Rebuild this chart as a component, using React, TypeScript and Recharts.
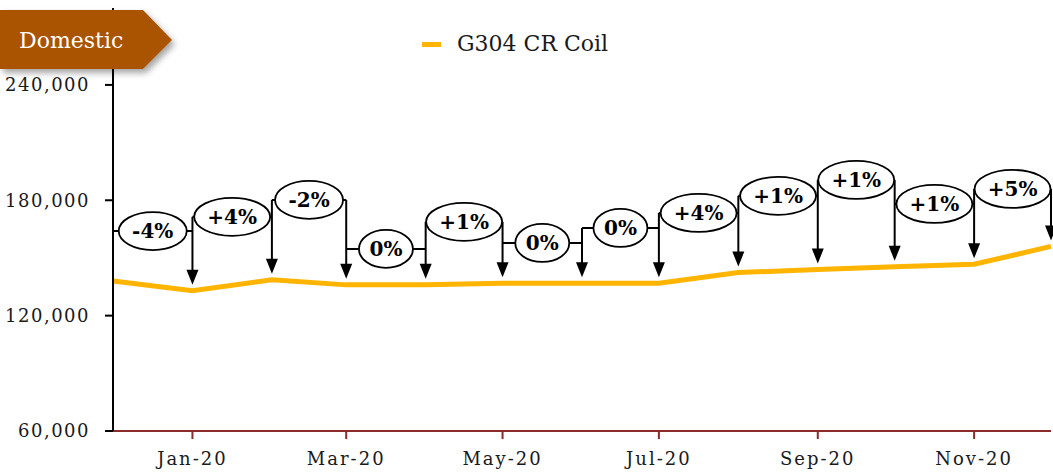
import React from 'react';
import { LineChart, Line, XAxis, YAxis, ReferenceLine, ReferenceDot } from 'recharts';

// ---- data ----
const months = [
  '2019-12', '2020-01', '2020-02', '2020-03', '2020-04', '2020-05', '2020-06',
  '2020-07', '2020-08', '2020-09', '2020-10', '2020-11', '2020-12',
];
const prices = [138000, 133000, 138600, 136000, 136000, 136800, 136800, 136800, 142400, 144000, 145400, 146700, 156000];
// month-on-month change callouts (between month k-1 and k)
const changeLabels = ['-4%', '+4%', '-2%', '0%', '+1%', '0%', '0%', '+4%', '+1%', '+1%', '+1%', '+5%'];
// level (in price units) at which each callout bubble sits
const labelLevels = [164000, 171400, 180200, 154700, 168800, 157800, 165600, 173400, 182300, 190600, 178100, 185900];
const xTickMonths = ['2020-01', '2020-03', '2020-05', '2020-07', '2020-09', '2020-11'];
const yTicks = [60000, 120000, 180000, 240000];
const yDomain = [60000, 280000];
const seriesName = 'G304 CR Coil';
const badgeText = 'Domestic';

const MONTH_NAMES = ['Jan', 'Feb', 'Mar', 'Apr', 'May', 'Jun', 'Jul', 'Aug', 'Sep', 'Oct', 'Nov', 'Dec'];
const toTime = (m: string) => {
  const [y, mo] = m.split('-').map(Number);
  return Date.UTC(y, mo - 1, 1);
};
const fmtMonth = (t: number) => {
  const d = new Date(t);
  return `${MONTH_NAMES[d.getUTCMonth()]}-${String(d.getUTCFullYear()).slice(2)}`;
};
const fmtNum = (v: number) => v.toLocaleString('en-US');

const data = months.map((m, i) => ({ t: toTime(m), price: prices[i] }));
const xTicks = xTickMonths.map(toTime);

const callouts = changeLabels.map((label, j) => {
  const k = j + 1;
  const tPrev = data[k - 1].t;
  const t = data[k].t;
  const nextLevel = j + 1 < labelLevels.length ? labelLevels[j + 1] : -Infinity;
  return {
    label,
    tPrev,
    t,
    mid: (tPrev + t) / 2,
    level: labelLevels[j],
    top: Math.max(labelLevels[j], nextLevel),
    price: data[k].price,
  };
});

const FONT = '"DejaVu Serif", serif';
const MAROON = '#8C2B2B';
const ORANGE = '#FFB400';

const ArrowShape = (p: any) => {
  const { x1, y1, x2, y2 } = p;
  const top = Math.min(y1, y2);
  const bottom = Math.max(y1, y2);
  const tip = bottom - 6;
  const head = 15;
  return (
    <g>
      <line x1={x1} y1={top} x2={x2} y2={tip - head + 1} stroke="#000" strokeWidth={2} />
      <polygon points={`${x2 - 6},${tip - head} ${x2 + 6},${tip - head} ${x2},${tip}`} fill="#000" />
    </g>
  );
};

const StubShape = (p: any) => (
  <line x1={p.x1} y1={p.y1} x2={p.x2} y2={p.y2} stroke="#000" strokeWidth={2} />
);

const Bubble = ({ cx, cy, label }: any) => {
  const rx = label.length < 3 ? 27 : label[0] === '+' ? 38 : 34;
  return (
    <g>
      <ellipse cx={cx} cy={cy} rx={rx} ry={19} fill="#fff" stroke="#000" strokeWidth={1.8} />
      <text
        x={cx}
        y={cy}
        dy="0.36em"
        textAnchor="middle"
        fontFamily={FONT}
        fontWeight="bold"
        fontSize={20}
        fill="#000"
      >
        {label}
      </text>
    </g>
  );
};

const YTick = (p: any) => (
  <text
    x={p.x}
    y={p.y}
    dy="0.36em"
    textAnchor="end"
    fontFamily={FONT}
    fontSize={18}
    letterSpacing={1.5}
    fill="#1a1a1a"
  >
    {fmtNum(p.payload.value)}
  </text>
);

const XTick = (p: any) => (
  <text
    x={p.x}
    y={p.y}
    dy="0.71em"
    textAnchor="middle"
    fontFamily={FONT}
    fontSize={18}
    letterSpacing={2}
    fill="#1a1a1a"
  >
    {fmtMonth(p.payload.value)}
  </text>
);

export default function App() {
  return (
    <div style={{ position: 'absolute', left: 0, top: 0, width: 1053, height: 475, background: '#fff' }}>
      <LineChart width={1053} height={475} data={data} margin={{ top: 8, right: 2, bottom: 0, left: 0 }}>
        <XAxis
          dataKey="t"
          type="number"
          domain={[data[0].t, data[data.length - 1].t]}
          ticks={xTicks}
          axisLine={{ stroke: MAROON, strokeWidth: 2 }}
          tickLine={{ stroke: MAROON, strokeWidth: 2 }}
          tickSize={8}
          tickMargin={13}
          tick={XTick}
          height={44}
        />
        <XAxis
          xAxisId="top"
          orientation="top"
          dataKey="t"
          type="number"
          domain={[data[0].t, data[data.length - 1].t]}
          tick={false}
          tickLine={false}
          axisLine={{ stroke: MAROON, strokeWidth: 2 }}
          height={0}
        />
        <YAxis
          type="number"
          domain={yDomain}
          ticks={yTicks}
          axisLine={{ stroke: '#000', strokeWidth: 2 }}
          tickLine={{ stroke: '#000', strokeWidth: 2 }}
          tickSize={8}
          tickMargin={15}
          tick={YTick}
          width={113}
        />
        <YAxis
          yAxisId="right"
          orientation="right"
          type="number"
          domain={yDomain}
          tick={false}
          tickLine={false}
          axisLine={{ stroke: MAROON, strokeWidth: 2 }}
          width={0}
        />
        <Line
          type="linear"
          dataKey="price"
          name={seriesName}
          stroke={ORANGE}
          strokeWidth={5}
          dot={false}
          activeDot={false}
          isAnimationActive={false}
        />
        {callouts.map((c, i) => (
          <ReferenceLine
            key={`stub-${i}`}
            segment={[{ x: c.tPrev, y: c.level }, { x: c.t, y: c.level }]}
            shape={StubShape}
          />
        ))}
        {callouts.map((c, i) => (
          <ReferenceDot
            key={`bubble-${i}`}
            x={c.mid}
            y={c.level}
            r={1}
            shape={(p: any) => <Bubble {...p} label={c.label} />}
          />
        ))}
        {callouts.map((c, i) => (
          <ReferenceLine
            key={`arrow-${i}`}
            segment={[{ x: c.t, y: c.top }, { x: c.t, y: c.price }]}
            shape={ArrowShape}
          />
        ))}
      </LineChart>
      <div
        style={{
          position: 'absolute',
          left: 422,
          top: 30,
          height: 28,
          display: 'flex',
          alignItems: 'center',
          whiteSpace: 'nowrap',
        }}
      >
        <span style={{ display: 'inline-block', width: 19, height: 5, background: ORANGE, marginRight: 16 }} />
        <span style={{ fontFamily: FONT, fontSize: 22, color: '#1a1a1a', lineHeight: '28px' }}>{seriesName}</span>
      </div>
      <svg
        width={200}
        height={90}
        style={{ position: 'absolute', left: 0, top: 0, pointerEvents: 'none', overflow: 'visible' }}
      >
        <defs>
          <filter id="badgeShadow" x="-20%" y="-30%" width="150%" height="180%">
            <feDropShadow dx={3} dy={4} stdDeviation={3} floodColor="#000" floodOpacity={0.35} />
          </filter>
        </defs>
        <polygon points="0,10 143,10 172,40 143,69 0,69" fill="#AA5200" filter="url(#badgeShadow)" />
        <text x={19} y={48} fontFamily={FONT} fontSize={22} fill="#fff">
          {badgeText}
        </text>
      </svg>
    </div>
  );
}
